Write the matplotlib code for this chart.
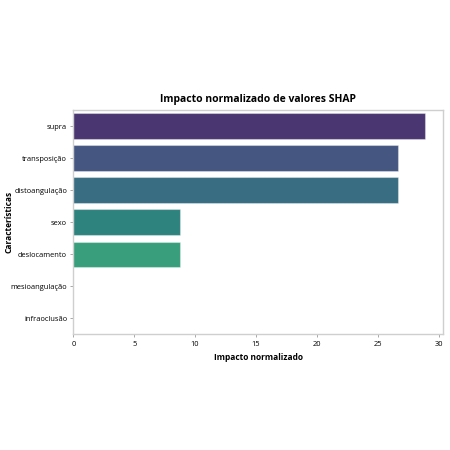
import matplotlib
matplotlib.use("Agg")
import matplotlib.pyplot as plt
import matplotlib.colors as mcolors
import colorsys
import numpy as np

features = ["supra", "transposição", "distoangulação", "sexo", "deslocamento", "mesioangulação", "infraoclusão"]
impact = [28.9, 26.7, 26.7, 8.8, 8.8, 0.0, 0.0]
xticks = [0, 5, 10, 15, 20, 25, 30]

plt.rcParams['font.family'] = ['Open Sans', 'DejaVu Sans']

fig = plt.figure(figsize=(4.5, 4.5), dpi=100)
ax = fig.add_axes([0.163, 0.2571, 0.821, 0.4978])

def desat(c, prop=0.75):
    r, g, b = mcolors.to_rgb(c)
    h, l, s = colorsys.rgb_to_hls(r, g, b)
    return colorsys.hls_to_rgb(h, l, s * prop)

cmap = plt.get_cmap("viridis")
n = len(features)
colors = [desat(cmap(v)) for v in np.linspace(0, 1, n + 2)[1:-1]]
y = np.arange(n)
ax.barh(y, impact, height=0.8, color=colors, edgecolor=[(1, 1, 1, 0.35)] * n, linewidth=0.8)
ax.set_ylim(n - 0.5, -0.5)
ax.set_xlim(0, max(impact) * 1.05)
ax.set_yticks(y)
ax.set_yticklabels(features)
ax.set_xticks(xticks)
ax.tick_params(labelsize=5.4, length=2.5, width=0.6, color="#999999", pad=2)
for s in ax.spines.values():
    s.set_color("#cfcfcf")
    s.set_linewidth(1.0)
ax.set_title("Impacto normalizado de valores SHAP", fontsize=7.5, fontweight="bold", pad=6)
ax.set_xlabel("Impacto normalizado", fontsize=6.0, fontweight="bold", labelpad=4)
ax.set_ylabel("Características", fontsize=6.0, fontweight="bold")
ax.yaxis.set_label_coords(-0.163, 0.5)

fig.savefig("out.png", dpi=100)
